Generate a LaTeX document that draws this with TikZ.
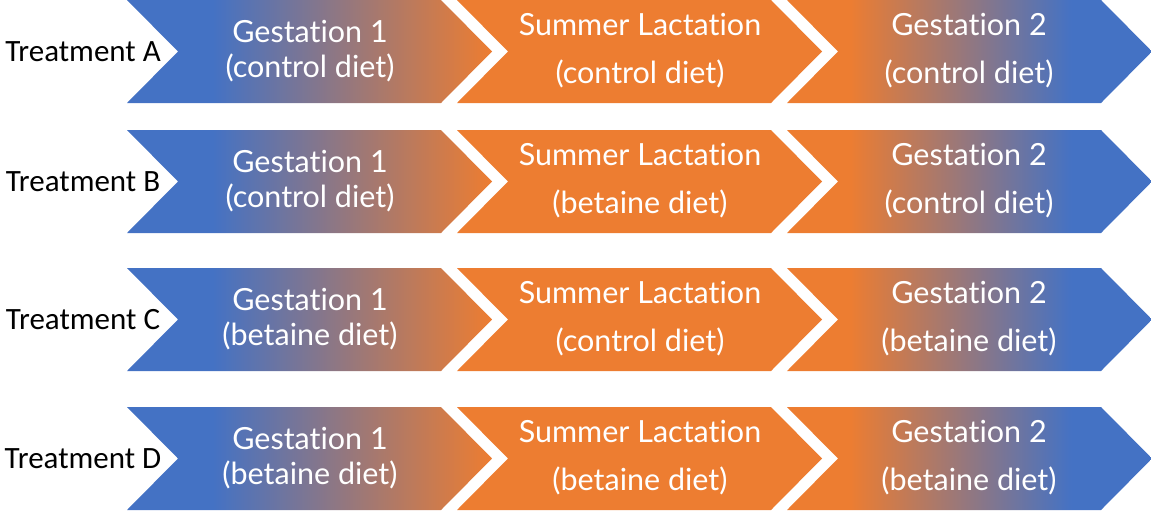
\documentclass[tikz,border=0pt]{standalone}
\usepackage{fontspec}
\setmainfont[Ligatures=NoCommon]{Lato}
\newfontfamily\labfont{Carlito}
\definecolor{cblue}{HTML}{4472C4}
\definecolor{corange}{HTML}{ED7D31}
\pgfdeclarehorizontalshading{bluetoorange}{100bp}{color(0bp)=(cblue); color(36.75bp)=(cblue); color(75bp)=(corange); color(100bp)=(corange)}
\pgfdeclarehorizontalshading{orangetoblue}{100bp}{color(0bp)=(corange); color(33.5bp)=(corange); color(64bp)=(cblue); color(100bp)=(cblue)}
\newcommand\chevron[3]{%
  \path[#3] (#1,#2) -- ++(314,0) -- ++(51,51.5) -- ++(-51,51.5) -- ++(-314,0) -- ++(51,-51.5) -- cycle;}
\tikzset{
  gradA/.style={shade, shading=bluetoorange},
  gradC/.style={shade, shading=orangetoblue},
  solidB/.style={fill=corange},
  ctext/.style={text=white, font=\fontsize{30.5}{32}\selectfont, anchor=base, inner sep=0pt},
  lab/.style={text=black, font=\labfont\fontsize{31}{32}\selectfont, anchor=base, inner sep=0pt},
}
\begin{document}
\begin{tikzpicture}[x=1pt, y=-1pt]
\useasboundingbox (0,0) rectangle (1151,515);
\foreach \t/\L/\da/\db/\dc in {0/A/control/control/control, 130/B/control/betaine/control, 268/C/betaine/control/betaine, 407/D/betaine/betaine/betaine}{
  \chevron{127}{\t}{gradA}
  \chevron{457}{\t}{solidB}
  \chevron{787}{\t}{gradC}
  \node[lab] (lab\L) at (83,\t+61) {Treatment \L};
  \node[ctext] (g1\L) at (310,\t+42) {Gestation 1};
  \node[ctext] (g1d\L) at (310,\t+77) {(\da\ diet)};
  \node[ctext] (sl\L) at (640,\t+35) {Summer Lactation};
  \node[ctext] (sld\L) at (640,\t+83) {(\db\ diet)};
  \node[ctext] (g2\L) at (969,\t+35) {Gestation 2};
  \node[ctext] (g2d\L) at (969,\t+83) {(\dc\ diet)};
}
\end{tikzpicture}
\end{document}
